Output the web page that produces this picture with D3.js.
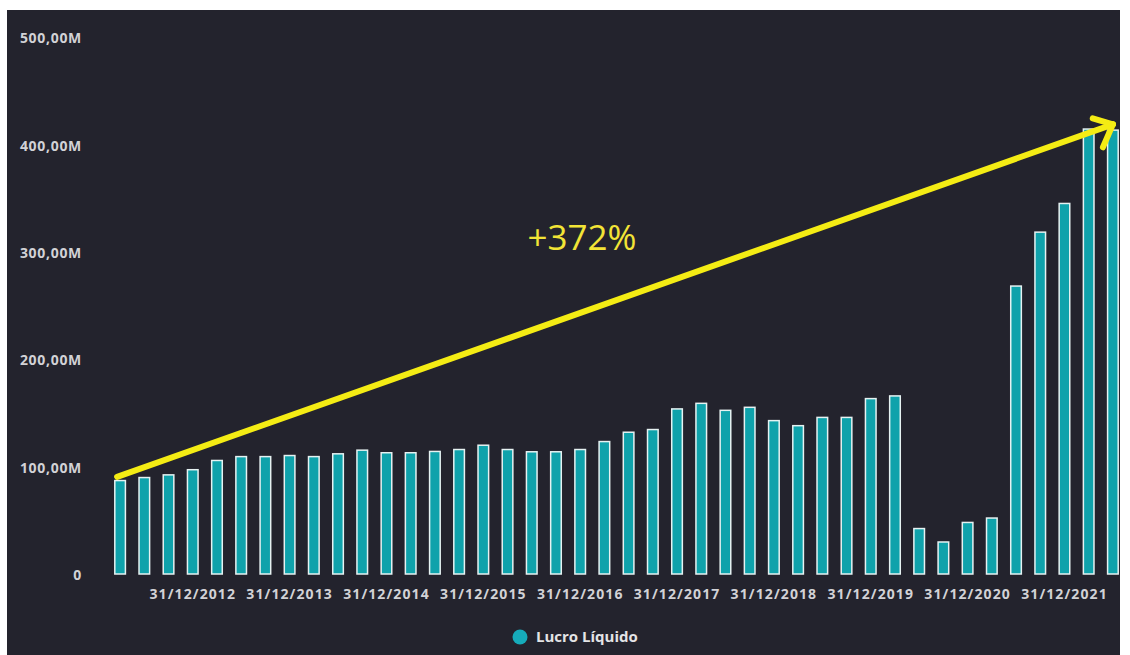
<!DOCTYPE html>
<html>
<head>
<meta charset="utf-8">
<script src="https://cdn.jsdelivr.net/npm/d3@7"></script>
<style>
  html, body { margin: 0; padding: 0; background: #ffffff; }
  svg { display: block; }
  text { font-family: "Open Sans", "DejaVu Sans", sans-serif; }
</style>
</head>
<body>
<svg id="chart" width="1130" height="655"></svg>
<script>
// Quarterly net income (R$ millions), Q1 2012 through Q2 2022
const quarters = [
  "31/03/2012","30/06/2012","30/09/2012","31/12/2012",
  "31/03/2013","30/06/2013","30/09/2013","31/12/2013",
  "31/03/2014","30/06/2014","30/09/2014","31/12/2014",
  "31/03/2015","30/06/2015","30/09/2015","31/12/2015",
  "31/03/2016","30/06/2016","30/09/2016","31/12/2016",
  "31/03/2017","30/06/2017","30/09/2017","31/12/2017",
  "31/03/2018","30/06/2018","30/09/2018","31/12/2018",
  "31/03/2019","30/06/2019","30/09/2019","31/12/2019",
  "31/03/2020","30/06/2020","30/09/2020","31/12/2020",
  "31/03/2021","30/06/2021","30/09/2021","31/12/2021",
  "31/03/2022","30/06/2022"
];
const lucroLiquido = [
  87.7, 90.5, 93, 97.8, 106.4, 110, 110, 111, 110, 112.6, 116, 113.6,
  113.6, 114.8, 116.6, 120.6, 116.6, 114.5, 114.5, 116.6, 124, 132.7, 135.2, 154.4,
  159.6, 153.1, 155.9, 143.5, 138.8, 146.5, 146.5, 164, 166.5, 43, 30.5, 48.7,
  52.8, 268.8, 319, 345.7, 415, 414
];
const xTickLabels = [
  "31/12/2012","31/12/2013","31/12/2014","31/12/2015","31/12/2016",
  "31/12/2017","31/12/2018","31/12/2019","31/12/2020","31/12/2021"
];
const yTickValues = [0, 100, 200, 300, 400, 500];
const seriesName = "Lucro Líquido";
const growthLabel = "+372%";

const W = 1130, H = 655;
const svg = d3.select("#chart");

// dark panel
svg.append("rect")
  .attr("x", 7).attr("y", 10)
  .attr("width", 1113).attr("height", H - 10)
  .attr("fill", "#23232d");

const x = d3.scaleBand()
  .domain(quarters)
  .range([108, 1125])
  .paddingInner(0.5)
  .paddingOuter(0.25);

const y = d3.scaleLinear()
  .domain([0, 500])
  .range([574, 37]);

// y axis
const yAxis = svg.append("g")
  .attr("transform", "translate(84,0)")
  .call(d3.axisLeft(y)
    .tickValues(yTickValues)
    .tickSize(0)
    .tickPadding(2)
    .tickFormat(d => d === 0 ? "0" : d + ",00M"));
yAxis.select(".domain").remove();
yAxis.selectAll("text")
  .attr("fill", "#d2d2d6")
  .attr("font-size", "14px")
  .attr("font-weight", 700)
  .attr("letter-spacing", "0.7px")
  .attr("dy", "0.4em");

// x axis
const xAxis = svg.append("g")
  .attr("transform", "translate(0,574)")
  .call(d3.axisBottom(x)
    .tickValues(xTickLabels)
    .tickSize(0)
    .tickPadding(25));
xAxis.select(".domain").remove();
xAxis.selectAll("text")
  .attr("fill", "#d2d2d6")
  .attr("font-size", "14px")
  .attr("font-weight", 700)
  .attr("letter-spacing", "1.1px")
  .attr("dy", "0");

// bars
svg.append("g")
  .selectAll("rect")
  .data(lucroLiquido)
  .join("rect")
  .attr("x", (d, i) => x(quarters[i]) + 0.75)
  .attr("y", d => y(d) + 0.75)
  .attr("width", x.bandwidth() - 1.5)
  .attr("height", d => y(0) - y(d) - 0.75)
  .attr("fill", "#0fa2ab")
  .attr("stroke", "#e6f2f2")
  .attr("stroke-width", 1.5);

// growth arrow from first to last quarter
const n = lucroLiquido.length;
const x0 = x(quarters[0]) + x.bandwidth() / 2 - 3;
const y0 = y(lucroLiquido[0]) - 3;
const x1 = x(quarters[n - 1]) + x.bandwidth() / 2;
const y1 = y(lucroLiquido[n - 1]) - 5;
const ang = Math.atan2(y0 - y1, x0 - x1);
const head = [
  [ang + 36 * Math.PI / 180, 21],
  [ang - 47 * Math.PI / 180, 25]
];
const arrow = svg.append("g")
  .attr("stroke", "#f4ec14")
  .attr("stroke-width", 6)
  .attr("stroke-linecap", "round")
  .attr("fill", "none");
arrow.append("line")
  .attr("x1", x0).attr("y1", y0)
  .attr("x2", x1).attr("y2", y1);
head.forEach(([a, len]) => {
  arrow.append("line")
    .attr("x1", x1).attr("y1", y1)
    .attr("x2", x1 + len * Math.cos(a))
    .attr("y2", y1 + len * Math.sin(a));
});

svg.append("text")
  .attr("x", 582).attr("y", 250)
  .attr("text-anchor", "middle")
  .attr("fill", "#f2e436")
  .attr("font-size", "35px")
  .text(growthLabel);

// legend
svg.append("circle")
  .attr("cx", 520).attr("cy", 637)
  .attr("r", 7.5)
  .attr("fill", "#16abba");
svg.append("text")
  .attr("x", 536).attr("y", 637)
  .attr("dy", "0.35em")
  .attr("fill", "#e4e4e6")
  .attr("font-size", "15px")
  .attr("font-weight", 700)
  .text(seriesName);
</script>
</body>
</html>
